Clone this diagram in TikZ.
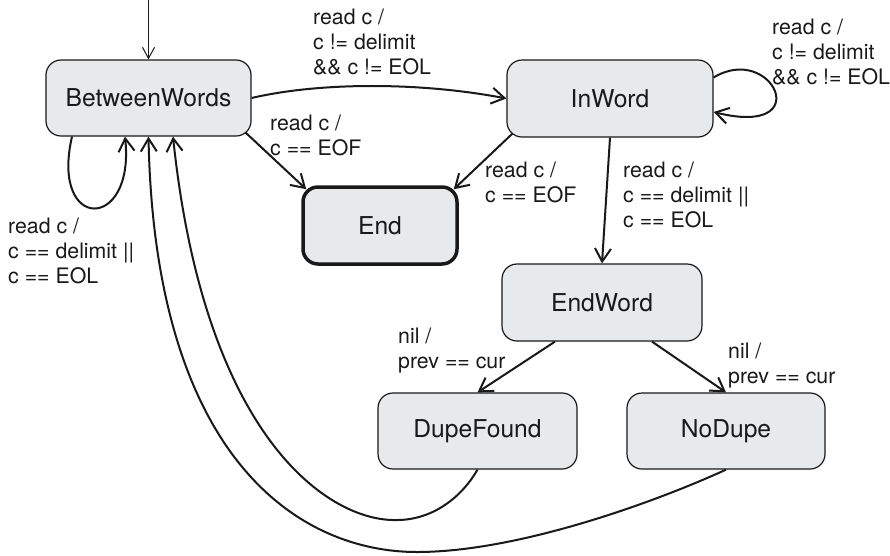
\documentclass[tikz,border=0pt]{standalone}
\usepackage{fontspec}
\setmainfont{TeX Gyre Heros}
\usetikzlibrary{arrows.meta,calc}
\definecolor{boxfill}{RGB}{232,233,235}
\definecolor{ink}{RGB}{25,25,25}
\begin{document}
\begin{tikzpicture}[x=1pt,y=-1pt,
  state/.style={draw=ink, line width=1.2pt, fill=boxfill, rounded corners=15pt, font=\fontsize{24.6}{28}\selectfont, text=ink, inner sep=0pt},
  final/.style={state, line width=3.5pt},
  edge/.style={draw=ink, line width=2pt, -{Straight Barb[length=13pt,width=16pt]}},
  initedge/.style={draw=ink, line width=1pt, -{Straight Barb[length=11pt,width=12pt]}},
  lbl/.style={font=\fontsize{21.3}{25}\selectfont, text=ink, align=left, inner sep=0pt, anchor=west}
]
\fill[white, use as bounding box] (0,0) rectangle (890,555);

% states
\node[state, minimum width=205pt, minimum height=76pt] (BW) at (148.5,98) {BetweenWords};
\node[state, minimum width=206pt, minimum height=77pt] (IW) at (610,98.5) {InWord};
\node[final, minimum width=154pt, minimum height=77pt] (End) at (380,225.5) {End};
\node[state, minimum width=200pt, minimum height=77pt] (EW) at (602,302.5) {EndWord};
\node[state, minimum width=199pt, minimum height=76pt] (DF) at (477.5,431) {DupeFound};
\node[state, minimum width=198pt, minimum height=76pt] (ND) at (726,431) {NoDupe};

% helper coordinates
\coordinate (init) at (148.5,0);
\coordinate (dflow) at (397,520);
\coordinate (ndlow) at (417,552);

% edges
\draw[initedge] (init) -- (BW.north);
\draw[edge] (BW.east) .. controls (320,82) and (420,82) .. (IW.west);
\draw[edge] ($(BW.south east)+(-6,-4)$) -- ($(End.north west)+(5,4)$);
\draw[edge] ($(IW.south west)+(6,-4)$) -- ($(End.north east)+(-5,4)$);
\draw[edge] (IW.south) -- (EW.north);
\draw[edge] ($(EW.south)+(-47,0)$) -- (DF.north);
\draw[edge] ($(EW.south)+(50,0)$) -- (ND.north);
\draw[edge] ($(BW.south)+(-76.5,0)$) .. controls (50,232) and (135,232) .. ($(BW.south)+(-23.5,0)$);
\draw[edge] ($(IW.east)+(0,-21)$) .. controls (772,42) and (818,138) .. ($(IW.east)+(0,13.5)$);
\draw[edge] (DF.south) .. controls (460,500) and (430,520) .. (dflow) .. controls (330,522) and (205,440) .. ($(BW.south)+(24.5,0)$);
\draw[edge] (ND.south) .. controls (660,500) and (520,552) .. (ndlow) .. controls (300,552) and (155,460) .. (BW.south);

% labels
\node[lbl] (l1) at (8,251) {read c /\\c == delimit ||\\c == EOL};
\node[lbl] (l2) at (313,42) {read c /\\c != delimit\\\&\& c != EOL};
\node[lbl] (l3) at (270,135.5) {read c /\\c == EOF};
\node[lbl] (l4) at (485,182.5) {read c /\\c == EOF};
\node[lbl] (l5) at (772,52) {read c /\\c != delimit\\\&\& c != EOL};
\node[lbl] (l6) at (623,195) {read c /\\c == delimit ||\\c == EOL};
\node[lbl] (l7) at (398,351) {nil /\\prev == cur};
\node[lbl] (l8) at (728,365.5) {nil /\\prev == cur};
\end{tikzpicture}
\end{document}
